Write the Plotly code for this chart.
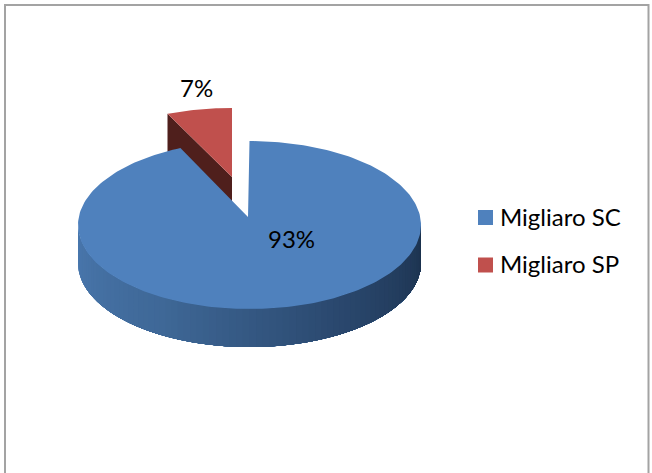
import numpy as np
import plotly.graph_objects as go

categories = ["Migliaro SC", "Migliaro SP"]
values = [93.4, 6.6]
top_colors = ["#4F81BD", "#C0504D"]
inner_red = "#4F1F1C"
side_stops = ["#4A78AE", "#3F6897", "#2B496F", "#1C324E"]

W, H = 652, 473
FONT = "Lato, Carlito, 'Open Sans', sans-serif"
BLUE = dict(cx=249.5, cy=225.0, rx=171.5, ry=84.0, ax=248.0, ay=217.0)
RED = dict(ax=232.0, ay=177.0, rx=160.0, ry=69.0)
DEPTH = 38.0

fracs = np.cumsum([0] + values) / sum(values) * 2 * np.pi


def pt(t, g, cx, cy):
    return cx + g["rx"] * np.sin(t), cy - g["ry"] * np.cos(t)


def hex_rgb(h):
    return np.array([int(h[i:i + 2], 16) for i in (1, 3, 5)], float)


def side_color(f):
    pos = f * (len(side_stops) - 1)
    i = min(int(pos), len(side_stops) - 2)
    c = hex_rgb(side_stops[i]) * (1 - (pos - i)) + hex_rgb(side_stops[i + 1]) * (pos - i)
    return "rgb(%d,%d,%d)" % tuple(c)


fig = go.Figure()


def poly(xs, ys, color, width=0.0):
    fig.add_trace(go.Scatter(x=list(xs), y=list(ys), mode="lines", fill="toself",
                             fillcolor=color, line=dict(color=color, width=width),
                             hoverinfo="skip", showlegend=False))


# exploded slice: extruded wall first, blue body is painted on top of it
t_red = np.linspace(fracs[1], fracs[2], 30)
rx_, ry_ = pt(t_red, RED, RED["ax"], RED["ay"])
poly([rx_[0], RED["ax"], RED["ax"], rx_[0]],
     [ry_[0], RED["ay"], RED["ay"] + DEPTH, ry_[0] + DEPTH], inner_red)
poly([RED["ax"]] + list(rx_), [RED["ay"]] + list(ry_), top_colors[1])

# blue rim: each band runs to the far end and is overpainted by the next, so no seams show
n = 80
edges = np.linspace(1.5 * np.pi, 0.5 * np.pi, n + 1)
for i in range(n):
    ts = np.linspace(edges[i], edges[-1], 100)
    x_, y_ = pt(ts, BLUE, BLUE["cx"], BLUE["cy"])
    poly(list(x_) + list(x_[::-1]), list(y_) + list((y_ + DEPTH)[::-1]),
         side_color(i / (n - 1)))

# blue top
t_blue = np.linspace(fracs[0], fracs[1], 240)
bx, by = pt(t_blue, BLUE, BLUE["cx"], BLUE["cy"])
poly([BLUE["ax"]] + list(bx), [BLUE["ay"]] + list(by), top_colors[0])

# legend keys and labels
legend_x = [485.5, 485.5]
legend_y = [217.5, 265.0]
for name, col, lx, ly in zip(categories, top_colors, legend_x, legend_y):
    fig.add_trace(go.Scatter(x=[lx], y=[ly], mode="markers", name=name, showlegend=False,
                             hoverinfo="name",
                             marker=dict(symbol="square", size=15, color=col)))

annotations = [
    dict(x=291.5, y=238, text=f"{round(values[0])}%", xanchor="center"),
    dict(x=196, y=87, text=f"{round(values[1])}%", xanchor="center"),
]
for name, ly in zip(categories, legend_y):
    annotations.append(dict(x=497.5, y=ly - 1.5, text=name, xanchor="left"))
for a in annotations:
    a.update(xref="x", yref="y", showarrow=False,
             font=dict(family=FONT, size=24, color="#000"))

fig.update_layout(
    width=W, height=H, margin=dict(l=0, r=0, t=0, b=0),
    paper_bgcolor="white", plot_bgcolor="white", showlegend=False,
    xaxis=dict(range=[0, W], visible=False, fixedrange=True),
    yaxis=dict(range=[H, 0], visible=False, fixedrange=True),
    annotations=annotations,
    shapes=[dict(type="rect", xref="x", yref="y", x0=5, y0=5, x1=648.5, y1=H + 20,
                 line=dict(color="#A3A3A3", width=2))],
)
fig.write_html("out.html", config={"displayModeBar": False},
               post_script="document.body.style.margin='0';document.body.style.overflow='hidden';")
